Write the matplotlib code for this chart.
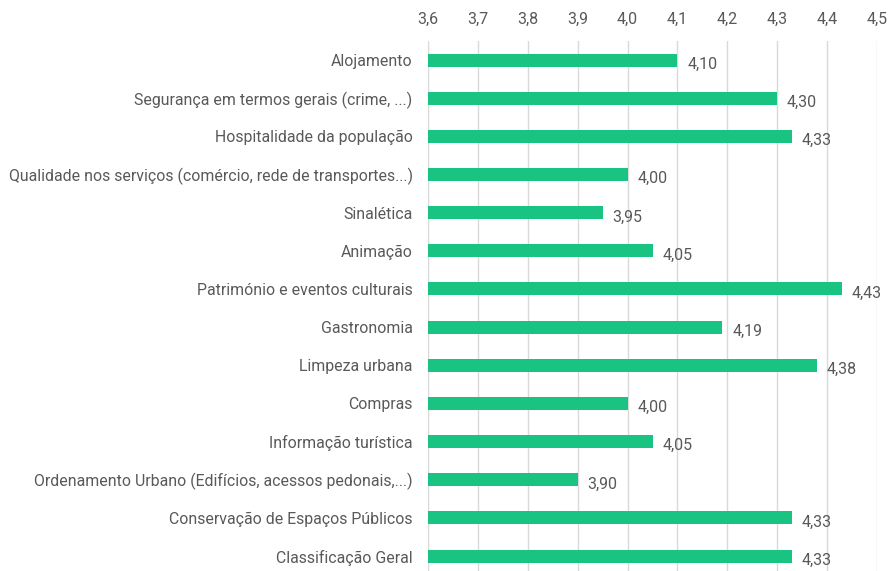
import matplotlib.pyplot as plt
from matplotlib.ticker import FuncFormatter

plt.rcParams['font.family'] = ['Roboto', 'DejaVu Sans']

categorias = ['Alojamento',
              'Segurança em termos gerais (crime, ...)',
              'Hospitalidade da população',
              'Qualidade nos serviços (comércio, rede de transportes...)',
              'Sinalética',
              'Animação',
              'Património e eventos culturais',
              'Gastronomia',
              'Limpeza urbana',
              'Compras',
              'Informação turística',
              'Ordenamento Urbano (Edifícios, acessos pedonais,...)',
              'Conservação de Espaços Públicos',
              'Classificação Geral']
valores = [4.10, 4.30, 4.33, 4.00, 3.95, 4.05, 4.43, 4.19, 4.38, 4.00, 4.05, 3.90, 4.33, 4.33]
ticks = [3.6, 3.7, 3.8, 3.9, 4.0, 4.1, 4.2, 4.3, 4.4, 4.5]

W, H = 889, 571
fig = plt.figure(figsize=(W/100, H/100), dpi=100)
ax = fig.add_axes([428/W, 0, 449/W, (H-41)/H])

y = list(range(len(categorias)))
ax.barh(y, [v - 3.6 for v in valores], left=3.6, height=0.34, color='#19c382', zorder=3)

cinza = '#595959'
for i, v in enumerate(valores):
    ax.annotate(f'{v:.2f}'.replace('.', ','), (v, i), xytext=(7, -3), textcoords='offset points',
                ha='left', va='center', fontsize=11.5, color=cinza)

ax.set_xlim(3.6, 4.5)
ax.set_ylim(-0.5 + 530/38.15, -0.5)
ax.set_xticks(ticks)
ax.xaxis.set_major_formatter(FuncFormatter(lambda x, p: f'{x:.1f}'.replace('.', ',')))
ax.xaxis.tick_top()
ax.tick_params(axis='x', length=0, pad=10, labelsize=11.5, labelcolor=cinza)
ax.set_yticks(y)
ax.set_yticklabels(categorias)
ax.tick_params(axis='y', length=0, pad=11, labelsize=11.4, labelcolor=cinza)
ax.grid(axis='x', color='#d9d9d9', linewidth=1, zorder=0)
for s in ax.spines.values():
    s.set_visible(False)

fig.savefig('out.png', dpi=100)
